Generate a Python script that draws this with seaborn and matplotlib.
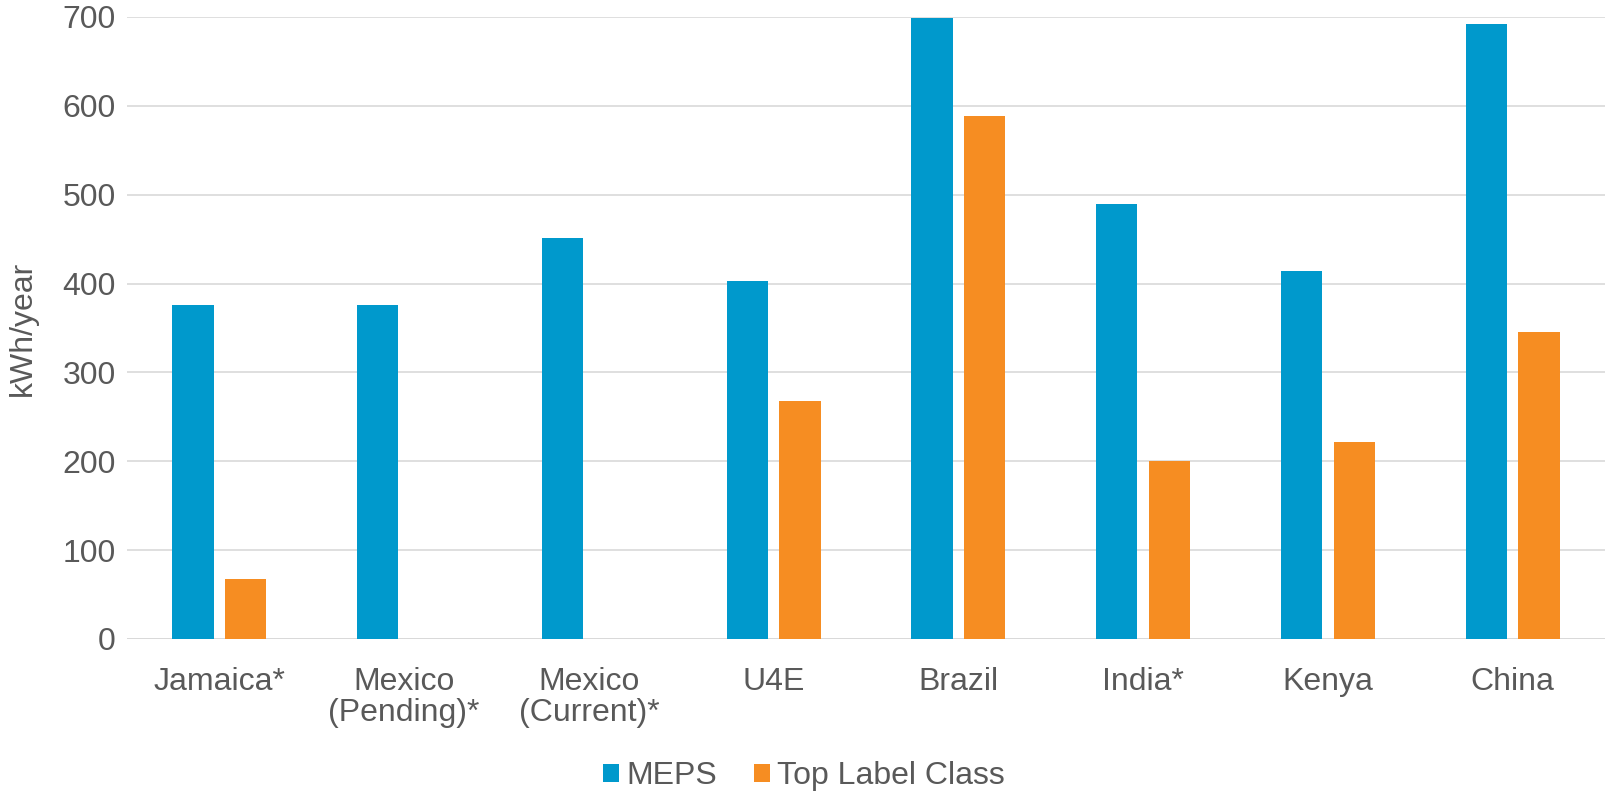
import numpy as np
import pandas as pd
import matplotlib
matplotlib.use("Agg")
import matplotlib.pyplot as plt
from matplotlib.patches import Patch
import seaborn as sns

categories = ["Jamaica*", "Mexico\n(Pending)*", "Mexico\n(Current)*", "U4E",
              "Brazil", "India*", "Kenya", "China"]
meps = [376, 376, 451, 403, 699, 490, 414, 692]
top_label = [67, np.nan, np.nan, 268, 589, 200, 222, 345]
series_names = ["MEPS", "Top Label Class"]
y_ticks = [0, 100, 200, 300, 400, 500, 600, 700]

colors = {"MEPS": "#0099CC", "Top Label Class": "#F68D22"}
text_color = "#595959"
grid_color = "#D9D9D9"
fs = 23

df = pd.DataFrame({
    "category": categories * 2,
    "series": [series_names[0]] * len(categories) + [series_names[1]] * len(categories),
    "value": meps + top_label,
})

sns.set_style("white")
plt.rcParams["font.family"] = ["Liberation Sans", "DejaVu Sans"]

fig = plt.figure(figsize=(16.08, 7.93), dpi=100)
ax = fig.add_axes([127 / 1608, 1 - 639 / 793, (1605 - 127) / 1608, (639 - 17) / 793])

sns.barplot(data=df, x="category", y="value", hue="series", order=categories,
            hue_order=series_names, palette=colors, width=0.57, gap=0.215,
            linewidth=0, saturation=1, legend=False, ax=ax)

ax.set_ylim(0, 700)
ax.set_xlim(-0.5, len(categories) - 0.5)
ax.set_yticks(y_ticks)
ax.set_yticklabels([str(t) for t in y_ticks])
ax.yaxis.grid(True, color=grid_color, linewidth=1.2)
ax.set_axisbelow(True)
for s in ax.spines.values():
    s.set_visible(False)
ax.axhline(0, color=grid_color, linewidth=1.4, zorder=0.5)

ax.tick_params(axis="y", length=0, pad=8, labelsize=fs, labelcolor=text_color)
ax.tick_params(axis="x", length=0, pad=20, labelsize=fs, labelcolor=text_color)
for lbl in ax.get_xticklabels():
    lbl.set_linespacing(1.05)
ax.set_xlabel("")
ax.set_ylabel("kWh/year", fontsize=fs, color=text_color, labelpad=18)

handles = [Patch(facecolor=colors[n], edgecolor="none") for n in series_names]
fig.legend(handles, series_names, loc="center", bbox_to_anchor=(0.5, 1 - 776 / 793),
           ncol=2, frameon=False, fontsize=fs, labelcolor=text_color,
           handlelength=0.5, handleheight=0.5, handletextpad=0.22, columnspacing=1.15)

fig.savefig("out.png", dpi=100)
